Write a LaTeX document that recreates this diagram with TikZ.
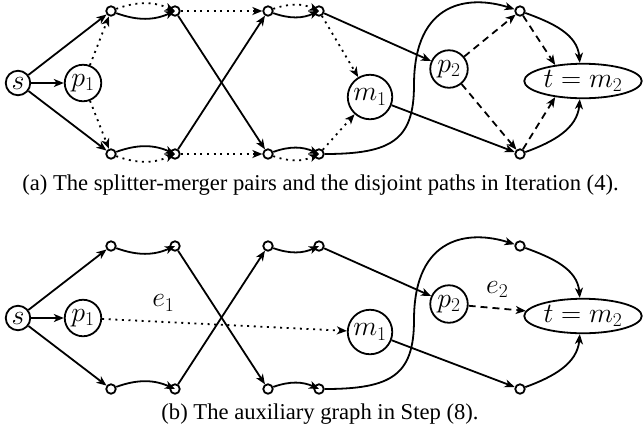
\RequirePackage{fix-cm}
\documentclass[tikz,border=0pt]{standalone}
\usepackage[no-math]{fontspec}
\newfontfamily\capfont{Liberation Serif}
\usetikzlibrary{arrows.meta,shapes.geometric}

\newcommand\nodefont{\fontsize{28}{32}\selectfont}
\newcommand\captionfont{\capfont\fontsize{22.7}{26}\selectfont}

\tikzset{
  vert/.style={circle, draw, inner sep=0pt, minimum size=9.5bp},
  lab/.style={circle, draw, inner sep=0pt, font=\nodefont},
  elab/.style={inner sep=0pt, font=\nodefont},
  dots/.style={dash pattern=on 2bp off 4.6bp},
  dsh/.style={dash pattern=on 7bp off 5bp},
}

% common vertex layout of both graphs (y grows downwards)
\newcommand\graphnodes{%
  \node[lab, minimum size=24.5bp] (s)  at (18,83)  {$s$};
  \node[lab, minimum size=36.5bp] (p1) at (83,83)  {$p_1$};
  \node[vert] (T1) at (111,11) {};
  \node[vert] (T2) at (175,11) {};
  \node[vert] (T3) at (268,11) {};
  \node[vert] (T4) at (319,11) {};
  \node[vert] (B1) at (111,154) {};
  \node[vert] (B2) at (175,154) {};
  \node[vert] (B3) at (268,154) {};
  \node[vert] (B4) at (319,154) {};
  \node[lab, minimum size=44.5bp] (m1) at (370,97) {$m_1$};
  \node[lab, minimum size=37.5bp] (p2) at (449,69) {$p_2$};
  \node[vert] (TR) at (520,11) {};
  \node[vert] (BR) at (520,154) {};
  \node[ellipse, draw, inner sep=0pt, minimum width=117.5bp,
        minimum height=34.5bp, font=\nodefont] (t) at (583,81) {$t=m_2$};
}

% edges present in both graphs
\newcommand\commonedges{%
  \draw[->] (s) -- (T1);
  \draw[->] (s) -- (p1);
  \draw[->] (s) -- (B1);
  \draw[->] (T1) to[bend right=22] (T2);
  \draw[->] (B1) to[bend left=22] (B2);
  \draw[->] (T2) -- (B3);
  \draw[->] (B2) -- (T3);
  \draw[->] (T3) to[bend right=22] (T4);
  \draw[->] (B3) to[bend left=22] (B4);
  \draw[->] (T4) -- (p2);
  \draw[->] (m1) -- (BR);
  \draw[->] (B4.east) .. controls +(67,0) and +(0,55) .. (414,85)
                      .. controls (414,0) and (470,-5) .. (TR);
  \draw[->] (TR) to[out=-20,in=95] (t.100);
  \draw[->] (BR) to[out=20,in=-95] (t.260);
}

\begin{document}
\begin{tikzpicture}[x=1bp, y=-1bp, line width=1.8bp,
  >={Stealth[length=10bp,width=8bp,inset=2.8bp]}]
\useasboundingbox (0,0) rectangle (644,432);

% (a) splitter-merger pairs and disjoint paths
\begin{scope}[name prefix=a-]
  \graphnodes
  \commonedges
  \draw[->,dots] (p1) -- (T1);
  \draw[->,dots] (p1) -- (B1);
  \draw[->,dots] (T1) to[bend left=22] (T2);
  \draw[->,dots] (B1) to[bend right=22] (B2);
  \draw[->,dots] (T2) -- (T3);
  \draw[->,dots] (B2) -- (B3);
  \draw[->,dots] (T3) to[bend left=22] (T4);
  \draw[->,dots] (B3) to[bend right=22] (B4);
  \draw[->,dots] (T4) -- (m1);
  \draw[->,dots] (B4) -- (m1);
  \draw[->,dsh] (p2) -- (TR);
  \draw[->,dsh] (p2) -- (BR);
  \draw[->,dsh] (TR) -- (t.150);
  \draw[->,dsh] (BR) -- (t.210);
  \node[anchor=base, font=\captionfont] (capa) at (320.5,190)
    {(a) The splitter-merger pairs and the disjoint paths in Iteration (4).};
\end{scope}

% (b) auxiliary graph
\begin{scope}[name prefix=b-, shift={(0,235)}]
  \graphnodes
  \commonedges
  \draw[->,dots] (p1) -- node[elab, pos=0.25, above=10bp] (e1) {$e_1$} (m1);
  \draw[->,dsh] (p2) -- node[elab, pos=0.5, above=10bp] (e2) {$e_2$} (t);
  \node[anchor=base, font=\captionfont] (capb) at (320,184)
    {(b) The auxiliary graph in Step (8).};
\end{scope}
\end{tikzpicture}
\end{document}
